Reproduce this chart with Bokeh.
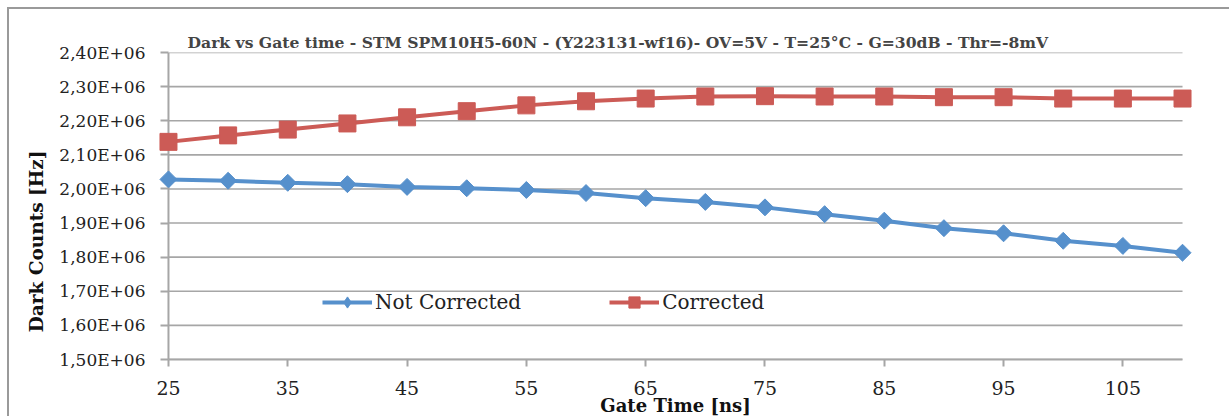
from bokeh.plotting import figure
from bokeh.models import Range1d, FixedTicker, CustomJSTickFormatter, Legend, LegendItem
from bokeh.embed import file_html
from bokeh.resources import INLINE
import numpy as np

gate_time = [25, 30, 35, 40, 45, 50, 55, 60, 65, 70, 75, 80, 85, 90, 95, 100, 105, 110]
not_corrected = [2.028e6, 2.024e6, 2.018e6, 2.014e6, 2.006e6, 2.002e6, 1.997e6, 1.988e6, 1.973e6,
                 1.962e6, 1.946e6, 1.926e6, 1.907e6, 1.885e6, 1.870e6, 1.848e6, 1.833e6, 1.813e6]
corrected = [2.138e6, 2.157e6, 2.174e6, 2.192e6, 2.210e6, 2.228e6, 2.245e6, 2.257e6, 2.265e6,
             2.271e6, 2.272e6, 2.271e6, 2.271e6, 2.269e6, 2.269e6, 2.265e6, 2.265e6, 2.265e6]
x_ticks = [25, 35, 45, 55, 65, 75, 85, 95, 105]
y_ticks = [1.5e6, 1.6e6, 1.7e6, 1.8e6, 1.9e6, 2.0e6, 2.1e6, 2.2e6, 2.3e6, 2.4e6]

title = "Dark vs Gate time - STM SPM10H5-60N - (Y223131-wf16)- OV=5V - T=25°C - G=30dB - Thr=-8mV"
xlabel = "Gate Time [ns]"
ylabel = "Dark Counts [Hz]"

SERIF = "DejaVu Serif"
BLUE = "#5690CC"
RED = "#CC5B56"
GRID = "#A6A6A6"

pad = 0.92
p = figure(width=1222, height=409, output_backend="svg", toolbar_location=None,
           x_range=Range1d(25 - pad, 110 + pad), y_range=Range1d(1.5e6, 2.4e6),
           min_border_left=148, min_border_right=38, min_border_top=43, min_border_bottom=58,
           margin=(7, 0, 0, 7),
           styles={"border-top": "2px solid #9A9A9A", "border-left": "2px solid #9A9A9A"})
p.outline_line_color = None
p.background_fill_color = "white"
p.border_fill_color = "white"

p.title.text = title
p.title.text_font = SERIF
p.title.text_font_style = "bold"
p.title.text_font_size = "15.6px"
p.title.align = "left"
p.title.offset = 30
p.title.standoff = 2

# gridlines and y axis line drawn between the data's x bounds
p.xgrid.visible = False
p.ygrid.visible = False
p.segment(x0=[gate_time[0]] * len(y_ticks), x1=[gate_time[-1]] * len(y_ticks), y0=y_ticks, y1=y_ticks,
          line_color=GRID, line_width=1.6)
p.segment(x0=[gate_time[0]], x1=[gate_time[0]], y0=[y_ticks[0]], y1=[y_ticks[-1]],
          line_color=GRID, line_width=2)

p.xaxis.ticker = FixedTicker(ticks=x_ticks)
p.xaxis.bounds = (gate_time[0], gate_time[-1])
p.yaxis.ticker = FixedTicker(ticks=y_ticks)
p.yaxis.formatter = CustomJSTickFormatter(code="return (tick/1e6).toFixed(2).replace('.', ',') + 'E+06';")

for ax in (p.xaxis[0], p.yaxis[0]):
    ax.axis_line_color = GRID
    ax.axis_line_width = 2
    ax.major_tick_line_color = GRID
    ax.major_tick_line_width = 2
    ax.major_tick_out = 7
    ax.major_tick_in = 0
    ax.minor_tick_out = 0
    ax.minor_tick_in = 0
    ax.major_label_text_font = SERIF
    ax.major_label_text_color = "#222222"

p.xaxis.major_label_text_font_size = "19px"
p.yaxis.major_label_text_font_size = "17px"
p.yaxis.axis_line_color = None
p.yaxis.major_tick_out = -3
p.yaxis.major_tick_in = 11
p.yaxis.major_label_standoff = 12
p.xaxis.major_label_standoff = 14
p.xaxis.axis_label = xlabel
p.xaxis.axis_label_text_font = SERIF
p.xaxis.axis_label_text_font_style = "bold"
p.xaxis.axis_label_text_font_size = "18px"
p.xaxis.axis_label_standoff = -3
p.xaxis.axis_label_text_color = "#111111"

# trailing no-break spaces push the vertical label below the frame centre, as in the original
p.yaxis.axis_label = ylabel + "\u00a0" * 11
p.yaxis.axis_label_text_font = SERIF
p.yaxis.axis_label_text_font_style = "bold"
p.yaxis.axis_label_text_font_size = "18.5px"
p.yaxis.axis_label_text_color = "#111111"
p.yaxis.axis_label_standoff = 9

l1 = p.line(gate_time, not_corrected, line_color=BLUE, line_width=4)
d1 = p.scatter(gate_time, not_corrected, marker="diamond", size=13, fill_color=BLUE, line_color=BLUE)
p.scatter(gate_time, not_corrected, marker="square", angle=np.pi / 4, size=12,
          fill_color=BLUE, line_color=BLUE)
l2 = p.line(gate_time, corrected, line_color=RED, line_width=4)
s2 = p.scatter(gate_time, corrected, marker="square", size=17, fill_color=RED, line_color=RED)

lg = Legend(items=[LegendItem(label="Not Corrected", renderers=[l1, d1]),
                   LegendItem(label="Corrected", renderers=[l2, s2])])
lg.orientation = "horizontal"
lg.location = (165, 43)
lg.glyph_width = 50
lg.glyph_height = 28
lg.label_height = 28
lg.label_standoff = 3
lg.spacing = 88
lg.padding = 0
lg.margin = 0
lg.border_line_alpha = 0
lg.background_fill_alpha = 0
lg.label_text_font = SERIF
lg.label_text_font_size = "20px"
lg.label_text_color = "#222222"
p.add_layout(lg, "center")

open("out.html", "w").write(file_html(p, INLINE))
